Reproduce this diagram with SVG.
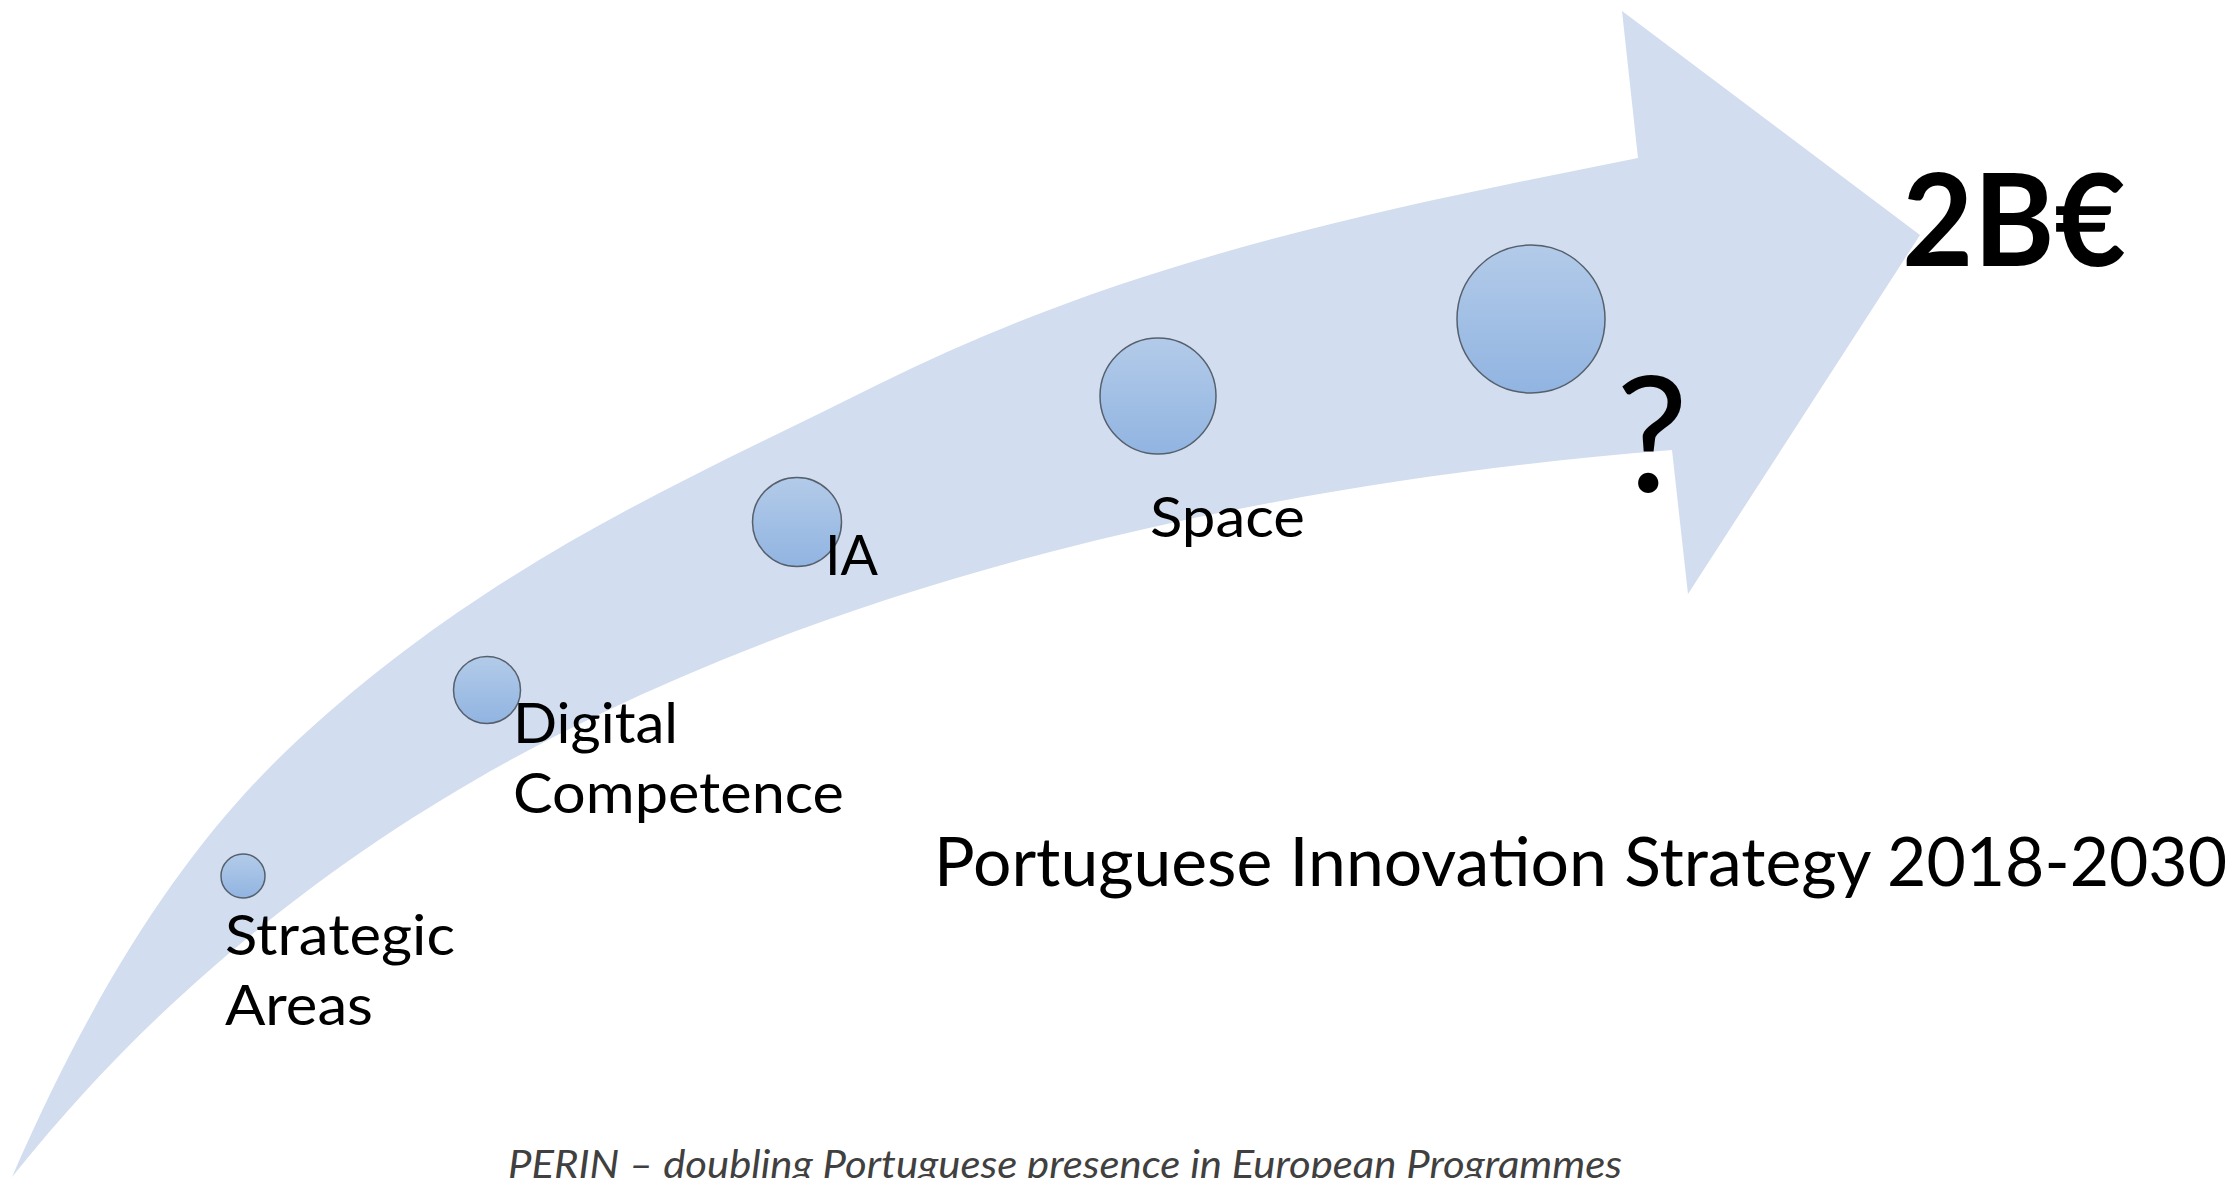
<svg xmlns="http://www.w3.org/2000/svg" width="2232" height="1178" viewBox="0 0 2232 1178">
  <defs>
    <linearGradient id="ballGrad" x1="0" y1="0" x2="0" y2="1">
      <stop offset="0" stop-color="#b3cbe9"/>
      <stop offset="1" stop-color="#91b4e1"/>
    </linearGradient>
    <style>
      .ball { fill: url(#ballGrad); stroke: #56606c; stroke-width: 1.5; }
      .lbl { font-family: Lato, "Open Sans", "Liberation Sans", sans-serif; font-size: 56px; fill: #000000; }
      .big { font-family: Lato, "Open Sans", "Liberation Sans", sans-serif; font-weight: bold; font-size: 128px; fill: #000000; }
      .q { font-family: Lato, "Open Sans", "Liberation Sans", sans-serif; font-size: 162px; fill: #000000; }
      .title { font-family: Lato, "Open Sans", "Liberation Sans", sans-serif; font-size: 67px; fill: #000000; }
      .foot { font-family: Lato, "Open Sans", "Liberation Sans", sans-serif; font-style: italic; font-size: 38px; fill: #404040; }
    </style>
  </defs>

  <rect x="0" y="0" width="2232" height="1178" fill="#ffffff"/>

  <g id="arrow">
    <path fill="#d2ddef" d="M 12 1177
      C 108 956.2 204 826.3 300 738
      C 492.3 561 684.7 481.2 877 385
      C 1130.7 258.2 1384.3 208.7 1638 158
      L 1622 11
      L 1920 235
      L 1688 594
      L 1672 450
      C 1464.7 466.6 1257.3 498.1 1050 552
      C 900 591 750 642 600 714
      C 477.7 772.7 355.3 847.3 233 950
      C 159.3 1011.9 85.7 1084.9 12 1177 Z"/>
  </g>

  <g id="connectors"/>

  <g id="node-strategic">
    <circle class="ball" cx="243" cy="876" r="22"/>
    <text class="lbl" x="225" y="955" textLength="230" lengthAdjust="spacingAndGlyphs">Strategic</text>
    <text class="lbl" x="225" y="1025" textLength="148" lengthAdjust="spacingAndGlyphs">Areas</text>
  </g>

  <g id="node-digital">
    <circle class="ball" cx="487" cy="690" r="33.5"/>
    <text class="lbl" x="513" y="743" textLength="165" lengthAdjust="spacingAndGlyphs">Digital</text>
    <text class="lbl" x="513" y="813" textLength="331" lengthAdjust="spacingAndGlyphs">Competence</text>
  </g>

  <g id="node-ia">
    <circle class="ball" cx="797" cy="522" r="44.5"/>
    <text class="lbl" x="825" y="575" textLength="53" lengthAdjust="spacingAndGlyphs">IA</text>
  </g>

  <g id="node-space">
    <circle class="ball" cx="1158" cy="396" r="58"/>
    <text class="lbl" x="1150" y="537" textLength="155" lengthAdjust="spacingAndGlyphs">Space</text>
  </g>

  <g id="node-next">
    <circle class="ball" cx="1531" cy="319" r="74"/>
    <text class="q" x="1652" y="492" text-anchor="middle">?</text>
  </g>

  <g id="node-target">
    <text class="big" x="1902" y="266" textLength="224" lengthAdjust="spacingAndGlyphs">2B€</text>
  </g>

  <g id="title">
    <text class="title" x="934" y="886" textLength="1293" lengthAdjust="spacingAndGlyphs">Portuguese Innovation Strategy 2018-2030</text>
  </g>

  <g id="footer">
    <text class="foot" x="508" y="1178" textLength="1114" lengthAdjust="spacingAndGlyphs">PERIN – doubling Portuguese presence in European Programmes</text>
  </g>
</svg>
